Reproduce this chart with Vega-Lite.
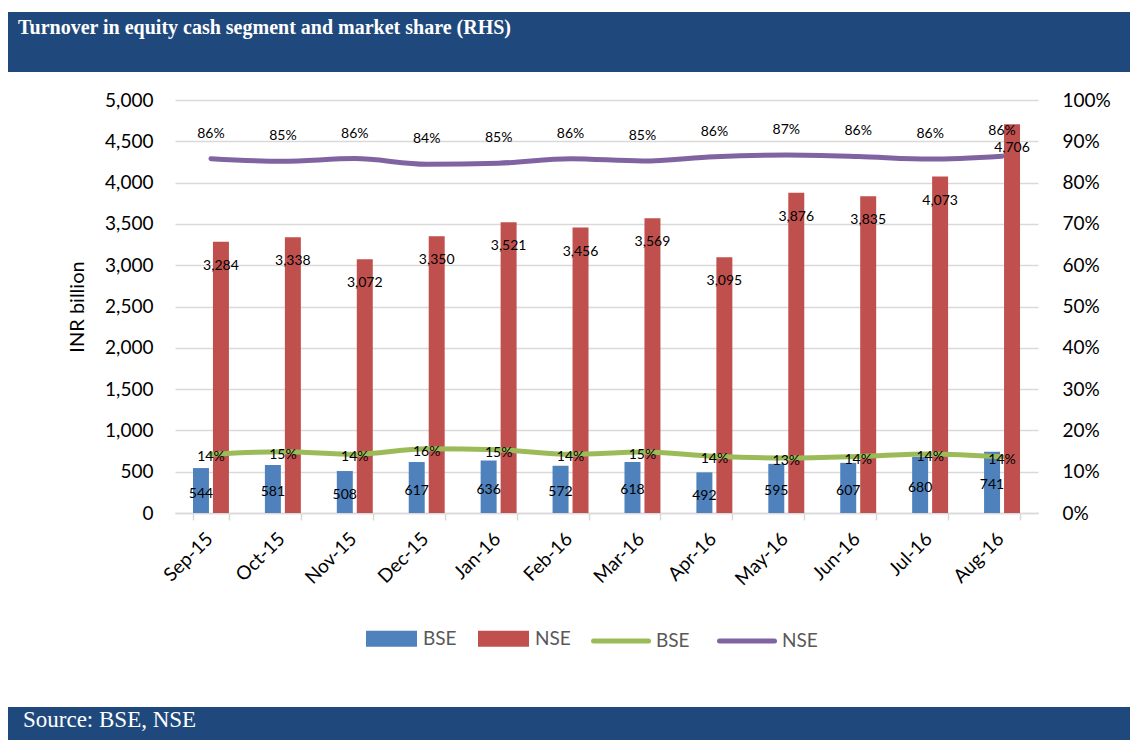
{
  "$schema": "https://vega.github.io/schema/vega-lite/v6.json",
  "padding": {"left": 8, "top": 12, "right": 0, "bottom": 0},
  "spacing": 19,
  "config": {"view": {"stroke": null}, "font": "Lato"},
  "datasets": {
    "rows": [
      {"month": "Sep-15", "exch": "BSE", "turnover": 544, "share": 0.1421},
      {"month": "Oct-15", "exch": "BSE", "turnover": 581, "share": 0.1483},
      {"month": "Nov-15", "exch": "BSE", "turnover": 508, "share": 0.1419},
      {"month": "Dec-15", "exch": "BSE", "turnover": 617, "share": 0.1555},
      {"month": "Jan-16", "exch": "BSE", "turnover": 636, "share": 0.1530},
      {"month": "Feb-16", "exch": "BSE", "turnover": 572, "share": 0.1420},
      {"month": "Mar-16", "exch": "BSE", "turnover": 618, "share": 0.1476},
      {"month": "Apr-16", "exch": "BSE", "turnover": 492, "share": 0.1372},
      {"month": "May-16", "exch": "BSE", "turnover": 595, "share": 0.1331},
      {"month": "Jun-16", "exch": "BSE", "turnover": 607, "share": 0.1367},
      {"month": "Jul-16", "exch": "BSE", "turnover": 680, "share": 0.1431},
      {"month": "Aug-16", "exch": "BSE", "turnover": 741, "share": 0.1360},
      {"month": "Sep-15", "exch": "NSE", "turnover": 3284, "share": 0.8579},
      {"month": "Oct-15", "exch": "NSE", "turnover": 3338, "share": 0.8517},
      {"month": "Nov-15", "exch": "NSE", "turnover": 3072, "share": 0.8581},
      {"month": "Dec-15", "exch": "NSE", "turnover": 3350, "share": 0.8445},
      {"month": "Jan-16", "exch": "NSE", "turnover": 3521, "share": 0.8470},
      {"month": "Feb-16", "exch": "NSE", "turnover": 3456, "share": 0.8580},
      {"month": "Mar-16", "exch": "NSE", "turnover": 3569, "share": 0.8524},
      {"month": "Apr-16", "exch": "NSE", "turnover": 3095, "share": 0.8628},
      {"month": "May-16", "exch": "NSE", "turnover": 3876, "share": 0.8669},
      {"month": "Jun-16", "exch": "NSE", "turnover": 3835, "share": 0.8633},
      {"month": "Jul-16", "exch": "NSE", "turnover": 4073, "share": 0.8569},
      {"month": "Aug-16", "exch": "NSE", "turnover": 4706, "share": 0.8640}
    ],
    "banner": [{"t": ""}]
  },
  "vconcat": [
    {
      "width": 1122,
      "height": 60,
      "data": {"name": "banner"},
      "view": {"fill": "#1F497D", "stroke": null},
      "mark": {"type": "rect", "color": "#1F497D"},
      "title": {
        "text": "Turnover in equity cash segment and market share (RHS)",
        "anchor": "start",
        "frame": "group",
        "offset": -26,
        "dx": 10,
        "font": "Liberation Serif",
        "fontSize": 20,
        "fontWeight": "bold",
        "color": "#FFFFFF"
      }
    },
    {
      "hconcat": [
        {
          "width": 59,
          "height": 588,
          "data": {"name": "banner"},
          "mark": {"type": "rect", "opacity": 0}
        },
        {
          "width": 863,
          "height": 413,
          "data": {"name": "rows"},
          "encoding": {
            "x": {
              "field": "month",
              "type": "nominal",
              "sort": ["Sep-15", "Oct-15", "Nov-15", "Dec-15", "Jan-16", "Feb-16", "Mar-16", "Apr-16", "May-16", "Jun-16", "Jul-16", "Aug-16"],
              "scale": {"paddingInner": 0.5, "paddingOuter": 0.25},
              "axis": {
                "title": null,
                "labelAngle": -45,
                "labelFontSize": 19,
                "labelFont": "Lato",
                "labelColor": "#000000",
                "labelPadding": 9,
                "labelOffset": -8,
                "tickBand": "extent",
                "tickSize": 7,
                "tickColor": "#D9D9D9",
                "tickWidth": 1.5,
                "domainColor": "#D9D9D9",
                "domainWidth": 1.5,
                "grid": false
              }
            }
          },
          "layer": [
            {
              "mark": {"type": "bar"},
              "encoding": {
                "xOffset": {"field": "exch", "type": "nominal", "scale": {"domain": ["BSE", "NSE"], "paddingInner": 0.2}},
                "y": {
                  "field": "turnover",
                  "type": "quantitative",
                  "scale": {"domain": [0, 5000]},
                  "axis": {
                    "orient": "left",
                    "title": "INR billion",
                    "titleFont": "Lato",
                    "titleFontSize": 20,
                    "titleFontWeight": "normal",
                    "titleColor": "#000000",
                    "titlePadding": 17,
                    "values": [0, 500, 1000, 1500, 2000, 2500, 3000, 3500, 4000, 4500, 5000],
                    "format": ",.0f",
                    "labelFontSize": 19,
                    "labelColor": "#000000",
                    "labelPadding": 22,
                    "ticks": false,
                    "domain": false,
                    "grid": true,
                    "gridColor": "#D9D9D9",
                    "gridWidth": 1.5
                  }
                },
                "fill": {
                  "field": "exch",
                  "type": "nominal",
                  "scale": {"domain": ["BSE", "NSE"], "range": ["#4F81BD", "#C0504D"]},
                  "legend": {
                    "title": null,
                    "orient": "none",
                    "direction": "horizontal",
                    "legendX": 334,
                    "legendY": 577,
                    "padding": 24,
                    "symbolType": "M-1,-0.314H1V0.314H-1Z",
                    "symbolSize": 2601,
                    "symbolStrokeWidth": 0,
                    "labelFont": "Lato",
                    "labelFontSize": 19,
                    "labelColor": "#595959",
                    "labelOffset": 6,
                    "columnPadding": 21
                  }
                }
              }
            },
            {
              "transform": [{"filter": "datum.exch === 'NSE'"}],
              "mark": {"type": "text", "dy": 24, "fontSize": 14, "font": "Lato", "color": "#000000"},
              "encoding": {
                "xOffset": {"field": "exch", "type": "nominal", "scale": {"domain": ["BSE", "NSE"], "paddingInner": 0.2}},
                "y": {"field": "turnover", "type": "quantitative", "scale": {"domain": [0, 5000]}, "axis": null},
                "text": {"field": "turnover", "type": "quantitative", "format": ","}
              }
            },
            {
              "transform": [{"filter": "datum.exch === 'BSE'"}],
              "mark": {"type": "text", "dy": 3, "fontSize": 14, "font": "Lato", "color": "#000000"},
              "encoding": {
                "xOffset": {"field": "exch", "type": "nominal", "scale": {"domain": ["BSE", "NSE"], "paddingInner": 0.2}},
                "y": {"field": "turnover", "type": "quantitative", "scale": {"domain": [0, 10000]}, "axis": null},
                "text": {"field": "turnover", "type": "quantitative", "format": ","}
              }
            },
            {
              "mark": {"type": "line", "strokeWidth": 5, "interpolate": "monotone", "strokeCap": "round"},
              "encoding": {
                "y": {
                  "field": "share",
                  "type": "quantitative",
                  "scale": {"domain": [0, 1]},
                  "axis": {
                    "orient": "right",
                    "title": null,
                    "format": ".0%",
                    "values": [0, 0.1, 0.2, 0.3, 0.4, 0.5, 0.6, 0.7, 0.8, 0.9, 1],
                    "labelFontSize": 19,
                    "labelColor": "#000000",
                    "labelPadding": 24,
                    "ticks": false,
                    "domain": false,
                    "grid": false
                  }
                },
                "stroke": {
                  "field": "exch",
                  "type": "nominal",
                  "scale": {"domain": ["NSE", "BSE"], "range": ["#8064A2", "#9BBB59"]},
                  "legend": {
                    "title": null,
                    "orient": "none",
                    "direction": "horizontal",
                    "values": ["BSE", "NSE"],
                    "legendX": 559,
                    "legendY": 575,
                    "padding": 24,
                    "symbolType": "stroke",
                    "symbolSize": 3025,
                    "symbolStrokeWidth": 5,
                    "labelFont": "Lato",
                    "labelFontSize": 19,
                    "labelColor": "#595959",
                    "labelOffset": 5,
                    "columnPadding": 19,
                    "encode": {"symbols": {"update": {"strokeCap": {"value": "round"}}}}
                  }
                }
              }
            },
            {
              "transform": [{"filter": "datum.exch === 'NSE'"}],
              "mark": {"type": "text", "dy": -25, "fontSize": 14, "font": "Lato", "color": "#000000"},
              "encoding": {
                "y": {"field": "share", "type": "quantitative", "scale": {"domain": [0, 1]}, "axis": null},
                "text": {"field": "share", "type": "quantitative", "format": ".0%"}
              }
            },
            {
              "transform": [{"filter": "datum.exch === 'BSE'"}],
              "mark": {"type": "text", "dy": 3, "fontSize": 14, "font": "Lato", "color": "#000000"},
              "encoding": {
                "y": {"field": "share", "type": "quantitative", "scale": {"domain": [0, 1]}, "axis": null},
                "text": {"field": "share", "type": "quantitative", "format": ".0%"}
              }
            }
          ],
          "resolve": {"scale": {"y": "independent"}}
        }
      ],
      "spacing": 0
    },
    {
      "width": 1122,
      "height": 33,
      "data": {"name": "banner"},
      "view": {"fill": "#1F497D", "stroke": null},
      "mark": {"type": "rect", "color": "#1F497D"},
      "title": {
        "text": "Source: BSE, NSE",
        "anchor": "start",
        "frame": "group",
        "offset": -25,
        "dx": 15,
        "font": "Liberation Serif",
        "fontSize": 23,
        "fontWeight": "normal",
        "color": "#FFFFFF"
      }
    }
  ]
}
